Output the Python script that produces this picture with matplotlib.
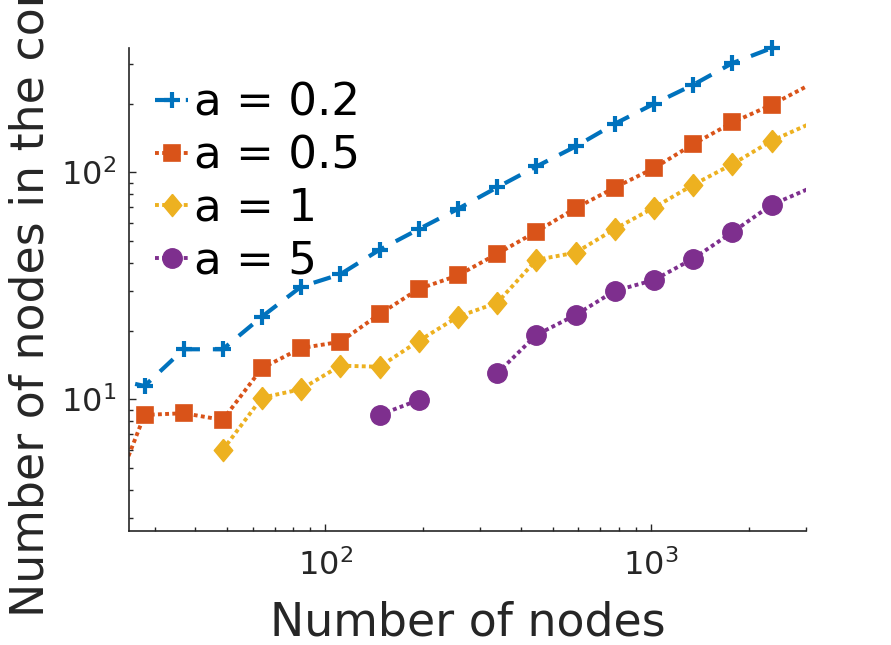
import numpy as np
import matplotlib
matplotlib.use('Agg')
import matplotlib.pyplot as plt
from matplotlib.lines import Line2D
from matplotlib.ticker import NullFormatter, LogLocator

# ---- data ----
nodes = [21.1, 27.9, 36.8, 48.5, 64.0, 84.4, 111.4, 147.0, 194.0, 256.0,
         337.8, 445.7, 588.1, 776.0, 1024.0, 1351.0, 1783.0, 2353.0, 3104.0]
core_a02 = [12.5, 11.44, 16.6, 16.6, 23.1, 31.3, 35.5, 45.5, 56.1, 68.9,
            85.7, 105.9, 129.7, 163.2, 200.0, 242.4, 302.0, 351.6, 440.0]
core_a05 = [3.05, 8.53, 8.68, 8.11, 13.7, 16.8, 17.9, 23.7, 30.6, 35.1,
            43.7, 54.7, 69.4, 85.5, 104.1, 132.8, 165.4, 197.9, 244.0]
core_a1 = [np.nan, np.nan, np.nan, 5.98, 10.16, 11.07, 14.06, 13.9, 18.06, 23.1,
           26.6, 41.1, 44.2, 56.2, 69.8, 87.9, 108.4, 137.4, 164.0]
core_a5 = [np.nan, np.nan, np.nan, np.nan, np.nan, np.nan, np.nan, 8.53, 9.93, np.nan,
           13.0, 19.2, 23.5, 30.0, 33.5, 41.6, 54.4, 71.8, 85.3]
series_labels = ['a = 0.2', 'a = 0.5', 'a = 1', 'a = 5']

x_limits = (25, 3000)
y_limits = (2.63, 352)

# ---- styles ----
colors = ['#0072BD', '#D95319', '#EDB120', '#7E2F8E']
tall_diamond = [(0, 1.2), (1, 0), (0, -1.2), (-1, 0), (0, 1.2)]
styles = [
    dict(marker='+', ms=12, mew=3.0, dashes=(4.3, 3.1), lw=3.0),
    dict(marker='s', ms=11, mew=1.2, dashes=(1.0, 0.85), lw=2.8),
    dict(marker=tall_diamond, ms=16, mew=1.0, dashes=(1.0, 0.85), lw=2.8),
    dict(marker='o', ms=14, mew=1.0, dashes=(1.0, 0.85), lw=2.8),
]
ink = '#262626'

fig = plt.figure(figsize=(8.91, 6.45), dpi=100)
ax = fig.add_axes([129 / 891, 1 - 531 / 645, 677 / 891, 483 / 645])
ax.set_xscale('log')
ax.set_yscale('log')
ax.set_xlim(*x_limits)
ax.set_ylim(*y_limits)

x = np.array(nodes)
handles = []
for ys, lab, col, st in zip([core_a02, core_a05, core_a1, core_a5],
                            series_labels, colors, styles):
    y = np.array(ys, dtype=float)
    ax.plot(x, y, color=col, lw=st['lw'], dashes=st['dashes'],
            dash_capstyle='butt', solid_capstyle='butt')
    inside = (np.isfinite(y) & (x >= x_limits[0]) & (x <= x_limits[1])
              & (y >= y_limits[0]) & (y <= y_limits[1]))
    ax.plot(x[inside], y[inside], linestyle='none', marker=st['marker'],
            ms=st['ms'], mew=st['mew'], color=col, mfc=col, mec=col,
            clip_on=False, zorder=3)
    handles.append(Line2D([], [], color=col, lw=st['lw'], dashes=st['dashes'],
                          marker=st['marker'], ms=st['ms'], mew=st['mew'],
                          mfc=col, mec=col))

for side in ['top', 'right']:
    ax.spines[side].set_visible(False)
for side in ['left', 'bottom']:
    ax.spines[side].set_color(ink)
    ax.spines[side].set_linewidth(1.2)

ax.xaxis.set_major_locator(LogLocator(base=10, numticks=10))
ax.yaxis.set_major_locator(LogLocator(base=10, numticks=10))
ax.xaxis.set_minor_formatter(NullFormatter())
ax.yaxis.set_minor_formatter(NullFormatter())
ax.tick_params(which='both', direction='in', colors=ink, labelsize=23,
               width=1.0)
ax.tick_params(which='major', length=5.2)
ax.tick_params(which='minor', length=2.7)
ax.tick_params(axis='x', which='major', pad=13)
ax.tick_params(axis='y', which='major', pad=9.5)

ax.set_xlabel('Number of nodes', fontsize=33, color=ink)
ax.xaxis.set_label_coords(0.5, -0.1429)
ax.set_ylabel('Number of nodes in the core', fontsize=33, color=ink)
ax.yaxis.set_label_coords(-0.111, 0.5)

ax.legend(handles, series_labels, loc='upper left', frameon=False,
          fontsize=32.5, handlelength=0.74, handletextpad=0.12,
          labelspacing=0.21, borderpad=0, borderaxespad=0,
          bbox_to_anchor=(26 / 677, 1 - 34 / 483))

fig.savefig('out.png', dpi=100)
